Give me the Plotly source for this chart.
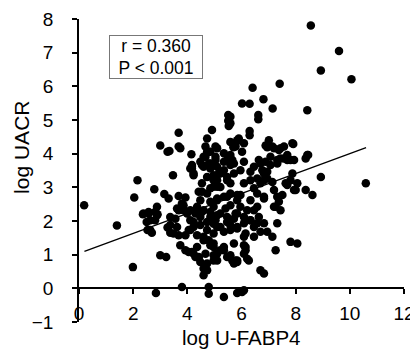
import plotly.graph_objects as go

# ---- data ----
x_vals = [
 8.56,9.60,8.93,10.06,7.41,6.41,6.81,6.02,6.30,7.15,8.43,6.62,6.62,5.59,5.59,6.30,6.30,7.01,6.89,7.14,7.44,7.57,7.91,8.43,5.90,6.09,5.78,6.02,
 5.51,5.51,5.53,4.91,3.68,3.00,3.27,3.68,4.15,4.73,4.67,4.79,5.04,5.35,5.72,5.59,5.84,
 5.78,5.70,5.59,5.10,5.04,5.47,5.66,6.95,7.20,7.38,7.88,7.69,7.44,7.81,6.64,6.89,7.07,
 3.34,3.74,4.85,4.67,5.04,4.48,4.17,
 0.19,1.40,1.99,2.16,2.04,2.36,2.57,2.63,2.53,2.69,2.78,2.88,2.90,3.47,3.15,3.31,3.00,3.22,2.84,3.80,3.68,3.68,3.93,3.27,3.37,3.74,4.05,4.23,4.42,4.60,4.73,4.79,4.79,5.35,5.84,
 3.86,3.99,4.11,4.23,4.05,3.93,4.11,4.23,4.17,4.60,4.73,4.79,4.60,4.97,5.16,5.35,5.10,5.22,5.47,5.59,4.54,4.73,4.48,4.85,5.10,5.47,5.84,
 4.36,4.60,4.85,5.10,5.47,5.78,4.48,4.73,4.97,5.22,5.59,5.84,4.60,4.79,4.97,5.10,5.35,5.59,5.78,4.97,5.10,
 7.88,7.94,7.69,7.51,7.38,7.20,7.32,7.14,7.26,7.81,8.06,6.70,6.83,6.09,6.15,6.21,5.84,5.66,5.47,6.02,6.09,
 6.83,6.95,6.70,6.46,6.58,6.83,6.33,6.46,6.64,6.58,6.83,6.95,6.70,6.46,6.33,6.09,5.84,5.59,5.35,5.10,5.04,5.22,5.41,5.59,5.84,5.96,5.59,5.35,5.10,4.97,
 5.47,5.72,5.96,6.33,6.70,7.07,5.59,5.22,4.97,4.85,5.10,6.09,5.96,6.21,6.09,5.72,5.47,5.84,6.33,
 8.93,10.59,8.06,8.00,8.37,8.62,7.20,7.32,7.26,7.44,7.63,7.81,7.32,7.57,6.95,6.77,6.58,6.83,7.14,6.83,6.58,6.33,6.15,6.15,6.09,6.27,5.84,5.72,
 7.94,8.37,8.46,
 2.38,2.57,2.81,2.88,2.50,2.63,2.81,3.80,3.62,3.86,3.37,3.56,3.37,3.62,3.49,3.68,3.93,4.17,4.30,4.48,4.73,4.60,4.17,4.23,4.54,4.85,4.97,4.73,4.54,4.97,4.42,
 4.11,4.30,4.54,4.85,4.23,4.48,4.73,4.97,4.11,4.36,4.60,4.85,4.36,4.67,4.97,4.42,
 4.97,5.22,6.46,6.09,5.72,5.35,4.85,5.10,5.35,5.72,6.09,6.46,7.32,7.69,
]
y_vals = [
 7.81,7.05,6.47,6.21,6.08,5.96,5.62,5.49,5.48,5.34,5.29,5.15,5.02,5.10,4.90,4.67,4.55,4.40,4.24,4.21,4.16,4.21,4.29,3.96,4.45,4.31,4.21,4.06,
 5.15,4.98,4.82,4.70,4.62,4.24,4.06,4.21,3.98,4.45,4.21,4.06,4.21,4.01,4.21,4.35,4.40,
 4.31,4.19,3.96,4.16,3.91,3.81,3.81,4.19,4.16,4.11,4.31,3.96,3.86,3.81,3.81,3.76,3.91,
 4.08,4.16,4.06,3.91,3.81,3.76,3.61,
 2.47,1.87,0.63,3.21,2.70,2.20,2.27,2.02,1.73,1.65,2.94,2.42,2.20,3.36,2.80,2.67,0.98,0.93,-0.14,0.04,2.32,2.74,2.70,1.81,1.65,1.28,1.08,1.03,0.91,0.59,0.74,0.04,-0.16,-0.26,-0.14,
 2.47,2.22,2.02,1.82,1.73,1.58,3.56,3.41,3.66,3.91,4.06,3.71,3.61,3.66,3.41,3.51,3.21,3.01,3.31,3.12,2.87,2.82,2.62,2.57,2.67,2.72,2.77,
 2.42,2.32,2.27,2.17,2.12,2.22,2.12,1.97,1.92,1.82,1.87,1.78,1.53,1.43,1.23,1.03,1.13,0.98,0.83,0.98,0.83,
 3.41,2.92,3.07,2.77,2.57,2.42,1.93,1.53,1.13,1.38,1.33,0.54,0.44,1.28,1.13,0.88,0.78,0.83,0.93,-0.11,-0.06,
 3.41,3.26,3.12,2.97,2.82,2.72,2.62,2.32,2.12,1.93,1.93,1.68,1.68,1.82,2.02,1.93,1.82,1.73,1.68,1.82,2.02,2.22,2.37,2.47,2.62,2.77,2.82,2.72,2.62,2.42,
 3.21,3.41,3.51,3.46,3.71,3.66,3.66,3.41,3.21,2.97,3.02,3.12,2.42,2.32,2.12,2.07,1.97,2.22,3.21,
 3.31,3.12,3.12,2.92,2.92,2.77,2.92,2.72,2.42,2.32,3.12,3.21,3.81,3.86,3.46,3.51,3.26,3.21,3.16,2.67,2.42,2.02,1.63,1.23,1.03,0.83,0.83,0.74,
 3.81,3.86,3.96,
 2.22,2.22,2.27,2.17,1.97,1.73,2.02,2.52,2.37,2.32,2.12,2.07,1.88,1.82,1.63,1.58,1.13,1.08,0.93,0.78,0.54,0.39,3.56,3.36,3.66,3.56,3.36,3.31,3.12,3.02,2.87,
 2.32,2.22,2.27,2.12,1.97,1.88,1.73,1.63,1.73,1.58,1.43,1.28,1.23,1.03,0.83,0.93,
 1.33,1.13,1.53,1.53,1.33,1.23,3.71,3.61,3.76,3.71,3.76,3.61,3.71,3.81,
]

# regression line end points
fit_x = [0.2, 10.6]
fit_y = [1.10, 4.18]

r_text = "r = 0.360"
p_text = "P < 0.001"

x_ticks = [0, 2, 4, 6, 8, 10, 12]
y_ticks = [-1, 0, 1, 2, 3, 4, 5, 6, 7, 8]

FONT = "Liberation Sans, Arial, sans-serif"

fig = go.Figure()
fig.add_trace(go.Scatter(x=x_vals, y=y_vals, mode="markers",
                         marker=dict(color="black", size=8.5, line=dict(width=0)),
                         showlegend=False, hoverinfo="skip"))
fig.add_trace(go.Scatter(x=fit_x, y=fit_y, mode="lines",
                         line=dict(color="black", width=1.3),
                         showlegend=False, hoverinfo="skip"))

# the page body has an 8px margin, so the figure is offset by (8, 8)
fig.update_layout(
    width=410, height=343,
    margin=dict(l=71, r=14, t=11, b=29.4),
    paper_bgcolor="white", plot_bgcolor="white",
    font=dict(family=FONT, color="black"),
    xaxis=dict(range=[0, 12], tickvals=x_ticks, showline=True, linecolor="black",
               linewidth=1.5, ticks="outside", ticklen=5, tickwidth=1.5, tickcolor="black",
               anchor="free", position=1/9, showgrid=False, zeroline=False,
               tickfont=dict(size=19), ticklabelstandoff=3, automargin=False),
    yaxis=dict(range=[-1, 8], tickvals=y_ticks, showline=True, linecolor="black",
               linewidth=1.5, ticks="outside", ticklen=5, tickwidth=1.5, tickcolor="black",
               showgrid=False, zeroline=False, tickfont=dict(size=19),
               ticklabelstandoff=15, automargin=False),
    annotations=[
        dict(text=r_text + "<br>" + p_text, x=2.83, y=6.86, xref="x", yref="y",
             showarrow=False, font=dict(size=17.5), align="center",
             width=90, height=40,
             bordercolor="#777777", borderwidth=1, borderpad=1, bgcolor="white"),
        dict(text="log U-FABP4", x=0.5, y=-0.052, xref="paper", yref="paper",
             showarrow=False, font=dict(size=20.5), yanchor="middle"),
        dict(text="log UACR", x=-0.175, y=0.575, xref="paper", yref="paper",
             showarrow=False, font=dict(size=21), textangle=-90, xanchor="center"),
    ],
)

fig.write_html("out.html")
